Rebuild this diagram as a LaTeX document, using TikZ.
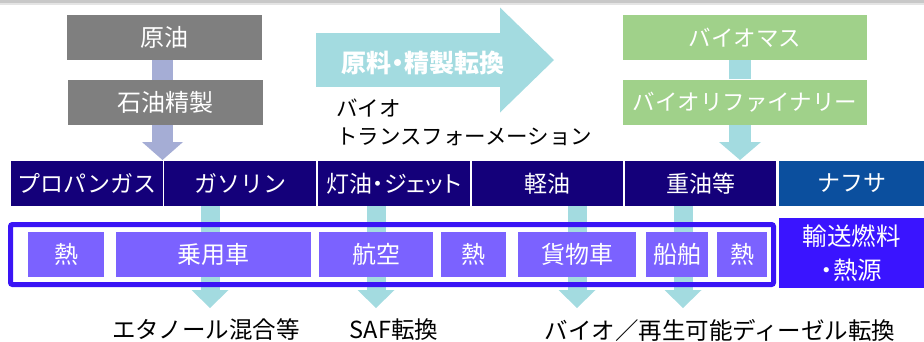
\documentclass[tikz,border=0pt]{standalone}
\usepackage{fontspec}
\setmainfont{Noto Sans CJK JP}
\newfontfamily\jpprop{Noto Sans CJK JP}[RawFeature=+palt]
\usetikzlibrary{arrows.meta,backgrounds}
\definecolor{cGray}{HTML}{7F7F7F}
\definecolor{cGreen}{HTML}{A0D18A}
\definecolor{cNavy}{HTML}{14007A}
\definecolor{cNaph}{HTML}{0B4F9E}
\definecolor{cBorder}{HTML}{3A14F5}
\definecolor{cUse}{HTML}{7B62FF}
\definecolor{cFuel}{HTML}{3A14FF}
\definecolor{cCyan}{HTML}{A3DBE0}
\definecolor{cLav}{HTML}{A5ADD5}
\definecolor{cTopA}{HTML}{C8C8C8}
\definecolor{cTopB}{HTML}{E4E4E4}
\begin{document}
\begin{tikzpicture}[x=1pt,y=-1pt,
  lbl/.style={inner sep=0pt, text=white},
  srcbox/.style={lbl, minimum height=45pt, font=\fontsize{24}{28}\selectfont},
  fuelcell/.style={lbl, fill=cNavy, minimum height=45pt, font=\fontsize{23}{27}\selectfont},
  usebox/.style={lbl, fill=cUse, minimum height=45pt, font=\fontsize{24}{28}\selectfont},
  note/.style={inner sep=0pt, text=black, font=\fontsize{23.5}{27}\selectfont},
  cyanflow/.style={draw=cCyan, line width=19pt, -{Triangle[width=37pt,length=18pt,line width=0pt]}},
]
\useasboundingbox (0,0) rectangle (924,341);
\fill[cTopA] (0,0) rectangle (924,3);
\fill[cTopB] (0,3) rectangle (924,5);

% sources
\node[srcbox, fill=cGray, minimum width=195pt] (crude) at (164.5,37.5) {原油};
\node[srcbox, fill=cGray, minimum width=195pt] (refine) at (165.5,102.5) {石油精製};
\node[srcbox, fill=cGreen, minimum width=244pt, font=\fontsize{22.5}{27}\selectfont] (bmass) at (745,37.5) {バイオマス};
\node[srcbox, fill=cGreen, minimum width=244pt, font=\fontsize{22.5}{27}\selectfont] (brefine) at (745,102) {バイオリファイナリー};

\node[lbl, font=\jpprop\bfseries\fontsize{25}{29}\selectfont] (conv) at (423,63) {原料・精製転換};
\node[note, anchor=west, font=\fontsize{21.5}{26}\selectfont] (bio1) at (336,108) {バイオ};
\node[note, anchor=west, font=\fontsize{21.5}{26}\selectfont] (bio2) at (336,137) {トランスフォーメーション};

% fuel band
\node[fuelcell, minimum width=152pt] (c1) at (87,183.5) {プロパンガス};
\node[fuelcell, minimum width=152pt] (c2) at (240,183.5) {ガソリン};
\node[fuelcell, minimum width=152pt, font=\jpprop\fontsize{23}{27}\selectfont] (c3) at (394,183.5) {灯油・ジェット};
\node[fuelcell, minimum width=151pt] (c4) at (547.5,183.5) {軽油};
\node[fuelcell, minimum width=151pt] (c5) at (700.5,183.5) {重油等};
\node[fuelcell, fill=cNaph, minimum width=145pt] (c6) at (851.5,183.5) {ナフサ};

% uses
\node[draw=cBorder, line width=5pt, rounded corners=2pt, minimum width=763pt, minimum height=60pt, inner sep=0pt] (cont) at (392,254.5) {};
\node[usebox, minimum width=76pt] (h1) at (66,254.5) {熱};
\node[usebox, minimum width=195pt] (car) at (213.5,254.5) {乗用車};
\node[usebox, minimum width=114pt] (air) at (376,254.5) {航空};
\node[usebox, minimum width=65pt] (h2) at (473.5,254.5) {熱};
\node[usebox, minimum width=118pt] (truck) at (577,254.5) {貨物車};
\node[usebox, minimum width=62pt] (ship) at (677,254.5) {船舶};
\node[usebox, minimum width=50pt] (h3) at (742,254.5) {熱};
\node[lbl, fill=cFuel, minimum width=145pt, minimum height=70pt, align=center, font=\jpprop\fontsize{24.5}{34}\selectfont] (fuel) at (851.5,253) {輸送燃料\\・熱源};

% notes
\node[note] (n1) at (206,330) {エタノール混合等};
\node[note] (n2) at (394,330) {SAF転換};
\node[note] (n3) at (720,330) {バイオ／再生可能ディーゼル転換};

\coordinate (lavTip) at (162.5,160);
\coordinate (bTip) at (740,160);
\coordinate (bigS) at (316,60);
\coordinate (bigE) at (554,60);
\coordinate (e1) at (210,308);
\coordinate (e2) at (376,308);
\coordinate (e3) at (577,308);
\coordinate (e4) at (683,308);

\begin{scope}[on background layer]
\draw[cLav, line width=21pt] (crude.south -| lavTip) -- (refine.north -| lavTip);
\draw[cLav, line width=21pt, -{Triangle[width=41pt,length=18pt,line width=0pt]}] (refine.south -| lavTip) -- (lavTip);
\draw[cCyan, line width=22pt] (bmass.south -| bTip) -- (brefine.north -| bTip);
\draw[cCyan, line width=22pt, -{Triangle[width=42pt,length=18pt,line width=0pt]}] (brefine.south -| bTip) -- (bTip);
\draw[cCyan, line width=54pt, -{Triangle[width=105pt,length=54pt,line width=0pt]}] (bigS) -- (bigE);
\draw[cyanflow] (c2.south -| e1) -- (e1);
\draw[cyanflow] (c3.south -| e2) -- (e2);
\draw[cyanflow] (c4.south -| e3) -- (e3);
\draw[cyanflow] (c5.south -| e4) -- (e4);
\end{scope}
\end{tikzpicture}
\end{document}
